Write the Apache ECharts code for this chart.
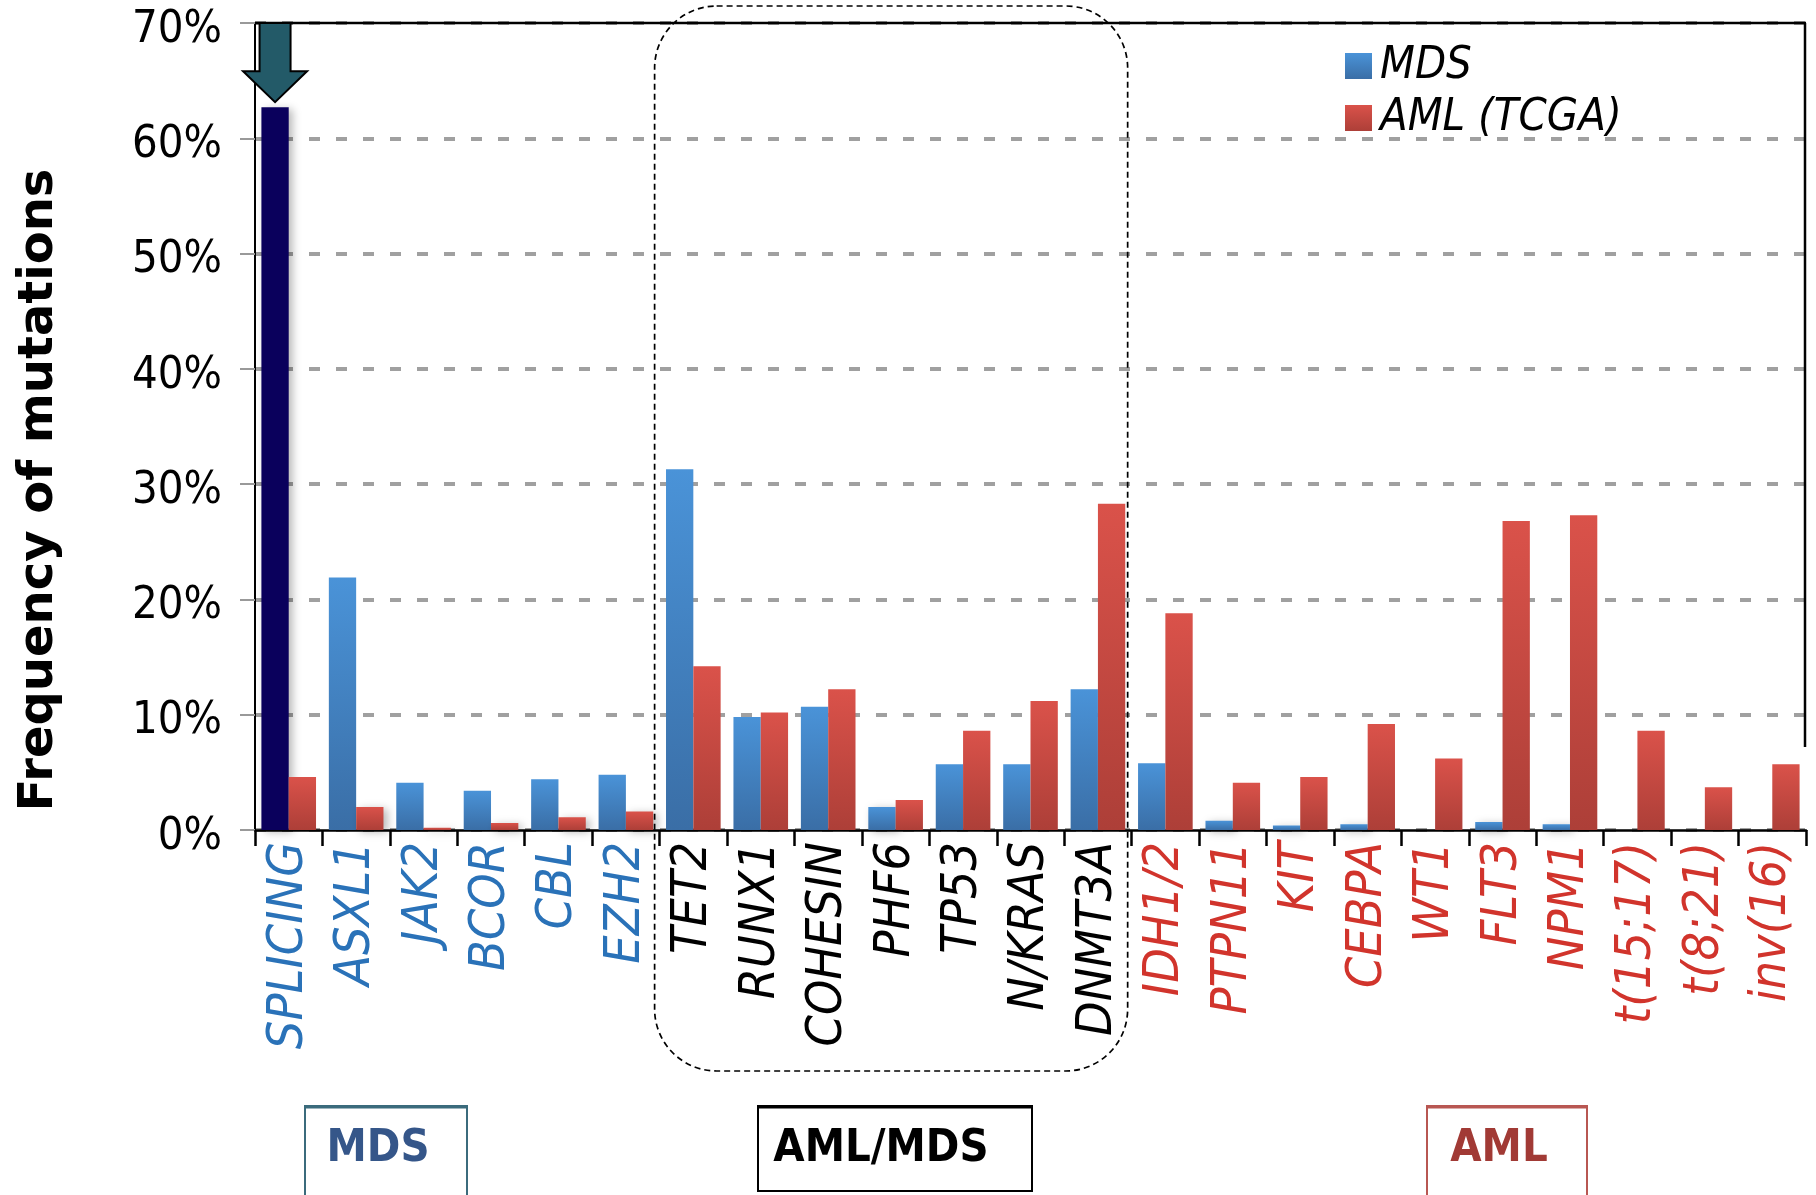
<!DOCTYPE html>
<html>
<head>
<meta charset="utf-8">
<script src="https://cdn.jsdelivr.net/npm/echarts@6/dist/echarts.min.js"></script>
<style>
  html, body { margin: 0; padding: 0; background: #ffffff; }
  #chart { width: 1816px; height: 1195px; }
</style>
</head>
<body>
<div id="chart"></div>
<script>
// Mutation frequencies (%) per gene / lesion
const categories = ['SPLICING', 'ASXL1', 'JAK2', 'BCOR', 'CBL', 'EZH2',
  'TET2', 'RUNX1', 'COHESIN', 'PHF6', 'TP53', 'N/KRAS', 'DNMT3A',
  'IDH1/2', 'PTPN11', 'KIT', 'CEBPA', 'WT1', 'FLT3', 'NPM1', 't(15;17)', 't(8;21)', 'inv(16)'];
const groupOf = ['MDS', 'MDS', 'MDS', 'MDS', 'MDS', 'MDS',
  'AML/MDS', 'AML/MDS', 'AML/MDS', 'AML/MDS', 'AML/MDS', 'AML/MDS', 'AML/MDS',
  'AML', 'AML', 'AML', 'AML', 'AML', 'AML', 'AML', 'AML', 'AML', 'AML'];
const mdsValues = [62.7, 21.9, 4.1, 3.4, 4.4, 4.8,
  31.3, 9.8, 10.7, 2.0, 5.7, 5.7, 12.2,
  5.8, 0.8, 0.4, 0.5, 0, 0.7, 0.5, 0, 0, 0];
const amlValues = [4.6, 2.0, 0.2, 0.6, 1.1, 1.6,
  14.2, 10.2, 12.2, 2.6, 8.6, 11.2, 28.3,
  18.8, 4.1, 4.6, 9.2, 6.2, 26.8, 27.3, 8.6, 3.7, 5.7];
const yTicks = [0, 10, 20, 30, 40, 50, 60, 70];
const seriesNames = ['MDS', 'AML (TCGA)'];
const groupBoxes = ['MDS', 'AML/MDS', 'AML'];

const NARROW = "'DejaVu Sans Condensed', 'Liberation Sans Narrow', sans-serif";
const labelColor = { 'MDS': '#2a72b8', 'AML/MDS': '#000000', 'AML': '#d1342c' };

const blueFill = new echarts.graphic.LinearGradient(0, 0, 0, 1, [
  { offset: 0, color: '#4a93d8' }, { offset: 1, color: '#3a6ea6' }]);
const redFill = new echarts.graphic.LinearGradient(0, 0, 0, 1, [
  { offset: 0, color: '#da524a' }, { offset: 1, color: '#ad3f38' }]);
const barShadow = { shadowColor: 'rgba(0,0,0,0.28)', shadowBlur: 9, shadowOffsetX: 4, shadowOffsetY: 2 };

const mdsData = mdsValues.map(function (v, i) {
  if (i === 0) {
    // highlighted splicing bar
    return { value: v, itemStyle: { color: '#0a005c' } };
  }
  return v;
});

const chart = echarts.init(document.getElementById('chart'), null, { renderer: 'canvas' });

chart.setOption({
  animation: false,
  backgroundColor: '#ffffff',
  grid: { left: 255, right: 10, top: 23, bottom: 365, containLabel: false },
  legend: {
    orient: 'vertical',
    left: 1340,
    top: 38,
    itemWidth: 27,
    itemHeight: 26,
    itemGap: 6,
    icon: 'rect',
    data: seriesNames,
    textStyle: {
      fontFamily: NARROW, fontStyle: 'italic', fontSize: 45, color: '#000',
      lineHeight: 46, padding: [0, 0, 0, 3]
    }
  },
  xAxis: {
    type: 'category',
    data: categories,
    boundaryGap: true,
    axisLine: { lineStyle: { color: '#000', width: 2.5 } },
    axisTick: { show: true, length: 16, lineStyle: { color: '#000', width: 2.5 } },
    axisLabel: {
      interval: 0,
      rotate: 90,
      margin: 12,
      fontFamily: NARROW,
      fontStyle: 'italic',
      fontSize: 50,
      color: function (value, index) { return labelColor[groupOf[index]]; }
    }
  },
  yAxis: {
    type: 'value',
    min: 0,
    max: 70,
    interval: 10,
    axisLine: { show: true, lineStyle: { color: '#000', width: 2 } },
    axisTick: { show: true, length: 15, lineStyle: { color: '#999', width: 2 } },
    axisLabel: {
      margin: 33,
      color: '#000',
      formatter: function (v) { return yTicks.indexOf(v) >= 0 ? '{v|' + v + '%}' : ''; },
      rich: {
        v: { fontFamily: NARROW, fontSize: 45, color: '#000', padding: [14, 0, 0, 0] }
      }
    },
    splitLine: { show: true, lineStyle: { color: '#a0a0a0', width: 4, type: [11, 16] } }
  },
  series: [
    {
      name: seriesNames[0], type: 'bar', data: mdsData,
      barGap: '0%', barCategoryGap: '19%',
      itemStyle: Object.assign({ color: blueFill }, barShadow)
    },
    {
      name: seriesNames[1], type: 'bar', data: amlValues,
      barGap: '0%', barCategoryGap: '19%',
      itemStyle: Object.assign({ color: redFill }, barShadow)
    }
  ]
});

// Frame lines, the AML/MDS overlap outline, pointer arrow and group boxes
function drawOverlays() {
  const rect = chart.getModel().getComponent('grid').coordinateSystem.getRect();
  const xl = rect.x, xr = rect.x + rect.width, yt = rect.y;
  const step = rect.width / categories.length;
  const px = function (cat, val) { return chart.convertToPixel({ gridIndex: 0 }, [cat, val]); };

  // arrow above the splicing bar
  const top0 = px(categories[0], mdsValues[0]);
  const barW = step * 0.81 / 2;
  const ax = top0[0] - barW / 2;
  const tipY = top0[1] - 5;
  const headY = tipY - 31;
  const shaft = 15.5, head = 32;
  const arrow = [
    [ax - shaft, yt], [ax + shaft, yt], [ax + shaft, headY], [ax + head, headY],
    [ax, tipY], [ax - head, headY], [ax - shaft, headY]
  ];

  // dashed outline around the shared AML/MDS genes
  const firstShared = groupOf.indexOf('AML/MDS');
  const lastShared = groupOf.lastIndexOf('AML/MDS');
  const bx0 = xl + firstShared * step - 5;
  const bx1 = xl + (lastShared + 1) * step - 4;

  const rightEnd = px(categories[categories.length - 1], 7.2)[1];

  const boxFont = { fontFamily: NARROW, fontWeight: 'bold', fontSize: 45 };
  const boxes = [
    { x: 305, w: 162, h: 100, text: groupBoxes[0], stroke: '#3b6b7c', color: '#355689', dx: -8 },
    { x: 758, w: 274, h: 85, text: groupBoxes[1], stroke: '#000000', color: '#000000', dx: -14 },
    { x: 1427, w: 160, h: 100, text: groupBoxes[2], stroke: '#b85752', color: '#a13a35', dx: -8 }
  ];

  const elements = [
    { type: 'line', shape: { x1: xl, y1: yt, x2: xr, y2: yt }, style: { stroke: '#000', lineWidth: 2.5 }, z: 10 },
    { type: 'line', shape: { x1: xr - 1, y1: yt, x2: xr - 1, y2: rightEnd }, style: { stroke: '#000', lineWidth: 2.5 }, z: 10 },
    { type: 'polygon', shape: { points: arrow }, style: { fill: '#235a68', stroke: '#000', lineWidth: 2 }, z: 20 },
    { type: 'rect', shape: { x: bx0, y: 6, width: bx1 - bx0, height: 1065, r: 62 },
      style: { fill: null, stroke: '#000', lineWidth: 1.7, lineDash: [6, 4] }, z: 15 },
    { type: 'text', x: 40, y: 490, rotation: Math.PI / 2,
      style: { text: 'Frequency of mutations', fontFamily: "'DejaVu Sans', sans-serif", fontWeight: 'bold',
        fontSize: 48, fill: '#000', align: 'center', verticalAlign: 'middle' }, z: 10 }
  ];
  boxes.forEach(function (b) {
    elements.push({ type: 'rect', shape: { x: b.x, y: 1106, width: b.w, height: b.h },
      style: { fill: null, stroke: b.stroke, lineWidth: 2 }, z: 10 });
    elements.push({ type: 'line', shape: { x1: b.x, y1: 1107, x2: b.x + b.w, y2: 1107 },
      style: { stroke: b.stroke, lineWidth: 3 }, z: 10 });
    elements.push({ type: 'text', x: b.x + b.w / 2 + b.dx, y: 1149,
      style: Object.assign({ text: b.text, fill: b.color, align: 'center', verticalAlign: 'middle' }, boxFont), z: 10 });
  });
  chart.setOption({ graphic: { elements: elements } });
}
drawOverlays();
</script>
</body>
</html>
